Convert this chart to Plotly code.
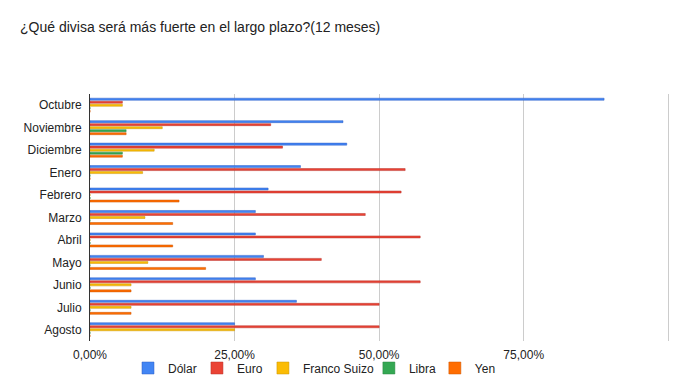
import plotly.graph_objects as go

categories = ["Octubre", "Noviembre", "Diciembre", "Enero", "Febrero", "Marzo",
              "Abril", "Mayo", "Junio", "Julio", "Agosto"]
series_names = ["Dólar", "Euro", "Franco Suizo", "Libra", "Yen"]
dolar = [0.889, 0.4375, 0.444, 0.364, 0.308, 0.286, 0.286, 0.30, 0.286, 0.357, 0.25]
euro = [0.056, 0.3125, 0.333, 0.545, 0.538, 0.476, 0.571, 0.40, 0.571, 0.50, 0.50]
franco = [0.056, 0.125, 0.111, 0.091, 0.0, 0.095, 0.0, 0.10, 0.071, 0.071, 0.25]
libra = [0.0, 0.0625, 0.056, 0.0, 0.0, 0.0, 0.0, 0.0, 0.0, 0.0, 0.0]
yen = [0.0, 0.0625, 0.056, 0.0, 0.154, 0.143, 0.143, 0.20, 0.071, 0.071, 0.0]
x_ticks = [0, 0.25, 0.5, 0.75, 1]
x_tick_labels = ["0,00%", "25,00%", "50,00%", "75,00%", ""]

values = [dolar, euro, franco, libra, yen]
colors = ["#4285F4", "#EA4335", "#FBBC04", "#34A853", "#FF6D01"]
line_colors = ["#2f5fc4", "#b8322a", "#c99504", "#2a8443", "#cc5701"]

# figure is offset by the page body margin (8px), so size/positions are local
W, H = 680, 376
L, T, B = 82, 86, 43
plot_w_100 = 578.5
XMAX = 1.003
R = W - L - plot_w_100 * XMAX
plot_h = H - T - B

legend_ids = ["legend", "legend2", "legend3", "legend4", "legend5"]
legend_left_px = [120, 189, 255, 361, 427]  # local px of each legend box

fig = go.Figure()
for name, vals, c, lc, lid in zip(series_names, values, colors, line_colors, legend_ids):
    fig.add_trace(go.Bar(
        name=name, y=categories, x=vals, orientation="h",
        marker=dict(color=c, line=dict(color=lc, width=0.5)),
        legend=lid,
    ))

layout_legends = {}
for lid, px in zip(legend_ids, legend_left_px):
    layout_legends[lid] = dict(
        orientation="h", x=(px - L) / (plot_w_100 * XMAX), xanchor="left",
        y=-27 / plot_h, yanchor="middle",
        font=dict(size=12, color="#222222"), bgcolor="rgba(0,0,0,0)",
    )

fig.update_layout(
    width=W, height=H,
    margin=dict(l=L, r=R, t=T, b=B, autoexpand=False),
    paper_bgcolor="white", plot_bgcolor="white",
    barmode="group", bargap=0.33, bargroupgap=0.33,
    separators=",.",
    font=dict(family="Liberation Sans, Arial, sans-serif", size=12, color="#222222"),
    title=dict(text="¿Qué divisa será más fuerte en el largo plazo?(12 meses)",
               x=12 / W, xanchor="left", y=1 - 19 / H, yanchor="middle",
               font=dict(size=14, color="#222222")),
    showlegend=True,
    **layout_legends,
)
fig.update_xaxes(range=[0, XMAX], tickvals=x_ticks, ticktext=x_tick_labels,
                 showgrid=True, gridcolor="#cccccc", gridwidth=1,
                 zeroline=False, showline=False, ticks="",
                 ticklabelstandoff=5,
                 tickfont=dict(size=12, color="#222222"))
fig.update_yaxes(autorange="reversed", showgrid=False, zeroline=False,
                 showline=True, linecolor="#333333", linewidth=1, ticks="",
                 ticklabelstandoff=5,
                 tickfont=dict(size=12, color="#222222"))

fig.write_html("out.html")
